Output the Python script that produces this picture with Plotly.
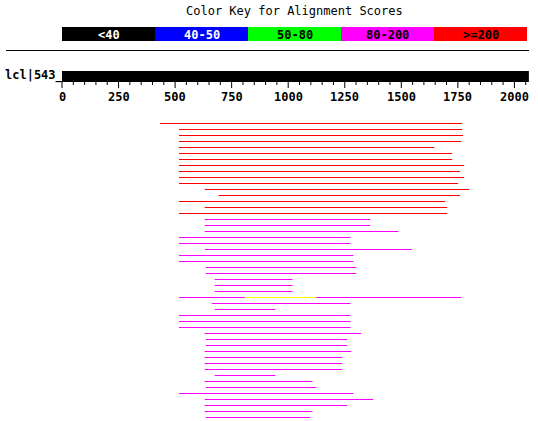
import plotly.graph_objects as go

# ---------------- data ----------------
query_label = "lcl|543_"
query_length = 2064
tick_values = [0, 250, 500, 750, 1000, 1250, 1500, 1750, 2000]
minor_step = 50

key_labels = ["<40", "40-50", "50-80", "80-200", ">=200"]
key_colors = ["#000000", "#0000FF", "#00FF00", "#FF00FF", "#FF0000"]
key_text_colors = ["#FFFFFF", "#FFFFFF", "#000000", "#000000", "#000000"]

hit_start = [433, 517, 517, 517, 517, 517, 517, 517, 517, 517, 517, 631, 693, 517, 631, 517,
             631, 631, 631, 517, 517, 631, 517, 517, 636, 636,
             675, 675, 675, 517, 662, 675,
             517, 517, 517, 631, 636, 636, 631, 631, 631, 631,
             675, 631, 636, 517, 631, 631, 631, 636]
hit_end = [1769, 1769, 1773, 1765, 1646, 1725, 1725, 1778, 1760, 1778, 1751, 1800, 1760, 1694, 1703, 1703,
           1363, 1363, 1487, 1275, 1275, 1548, 1288, 1288, 1301, 1301,
           1019, 1019, 1019, 1765, 1275, 943,
           1275, 1275, 1275, 1323, 1261, 1261, 1279, 1239, 1239, 1239,
           943, 1107, 1125, 1288, 1376, 1261, 1107, 1098]
hit_class = [">=200"] * 16 + ["80-200"] * 34
# extra low-score segment overlaid on one row (row index, start, end)
extra_row = [29]
extra_start = [808]
extra_end = [1125]
extra_color = "#FFFF00"

# ---------------- layout constants ----------------
W, H = 538, 421
px_per_unit = 0.2262
x0_px = 62
first_row_y = 123.5
row_gap = 6

xr = [-x0_px / px_per_unit, (W - x0_px) / px_per_unit]

def px_to_paper(p):
    return p / W

fig = go.Figure()

color_of = dict(zip(key_labels, key_colors))
for cls in key_labels:
    xs, ys = [], []
    for i, (s, e, c) in enumerate(zip(hit_start, hit_end, hit_class)):
        if c != cls:
            continue
        y = first_row_y + i * row_gap
        xs += [s, e, None]
        ys += [y, y, None]
    if xs:
        fig.add_trace(go.Scatter(x=xs, y=ys, mode="lines",
                                 line=dict(color=color_of[cls], width=1),
                                 hoverinfo="skip", showlegend=False))
xs, ys = [], []
for r, s, e in zip(extra_row, extra_start, extra_end):
    y = first_row_y + r * row_gap
    xs += [s, e, None]
    ys += [y, y, None]
fig.add_trace(go.Scatter(x=xs, y=ys, mode="lines", line=dict(color=extra_color, width=1),
                         hoverinfo="skip", showlegend=False))

shapes = []
annotations = []

# title
annotations.append(dict(x=px_to_paper(294), y=11, xref="paper", yref="y",
                        text="Color Key for Alignment Scores", showarrow=False,
                        font=dict(family="DejaVu Sans Mono", size=12, color="black"),
                        xanchor="center", yanchor="middle"))

# color key
key_left, key_right = 62, 527
seg = (key_right - key_left) / len(key_labels)
for i, (lab, col, tc) in enumerate(zip(key_labels, key_colors, key_text_colors)):
    a = key_left + i * seg
    b = a + seg
    shapes.append(dict(type="rect", xref="paper", yref="y",
                       x0=px_to_paper(a), x1=px_to_paper(b), y0=27, y1=41,
                       fillcolor=col, line=dict(width=0), layer="below"))
    annotations.append(dict(x=px_to_paper((a + b) / 2), y=34.5, xref="paper", yref="y",
                            text="<b>" + lab + "</b>", showarrow=False,
                            font=dict(family="DejaVu Sans Mono", size=12, color=tc),
                            xanchor="center", yanchor="middle"))

# separator rule
shapes.append(dict(type="line", xref="paper", yref="y",
                   x0=px_to_paper(6), x1=px_to_paper(529), y0=50.5, y1=50.5,
                   line=dict(color="black", width=1)))

# query bar
shapes.append(dict(type="rect", xref="x", yref="y", x0=0, x1=query_length, y0=71, y1=82,
                   fillcolor="black", line=dict(width=0)))
annotations.append(dict(x=px_to_paper(3), y=75, xref="paper", yref="y",
                        text="<b>" + query_label + "</b>", showarrow=False,
                        font=dict(family="DejaVu Sans Mono", size=12, color="black"),
                        xanchor="left", yanchor="middle"))

# ruler ticks
v = 0
while v <= query_length:
    major = v % 250 == 0
    shapes.append(dict(type="line", xref="x", yref="y", x0=v, x1=v, y0=82,
                       y1=88 if major else 85, line=dict(color="black", width=1)))
    v += minor_step
for t in tick_values:
    annotations.append(dict(x=t, y=96.5, xref="x", yref="y", text="<b>" + str(t) + "</b>",
                            showarrow=False,
                            font=dict(family="DejaVu Sans Mono", size=12, color="black"),
                            xanchor="center", yanchor="middle"))

fig.update_layout(
    width=W, height=H, margin=dict(l=0, r=0, t=0, b=0),
    paper_bgcolor="white", plot_bgcolor="white",
    xaxis=dict(range=xr, visible=False, fixedrange=True),
    yaxis=dict(range=[H, 0], visible=False, fixedrange=True),
    shapes=shapes, annotations=annotations, showlegend=False,
)

fig.write_html("out.html", config={"displayModeBar": False})
